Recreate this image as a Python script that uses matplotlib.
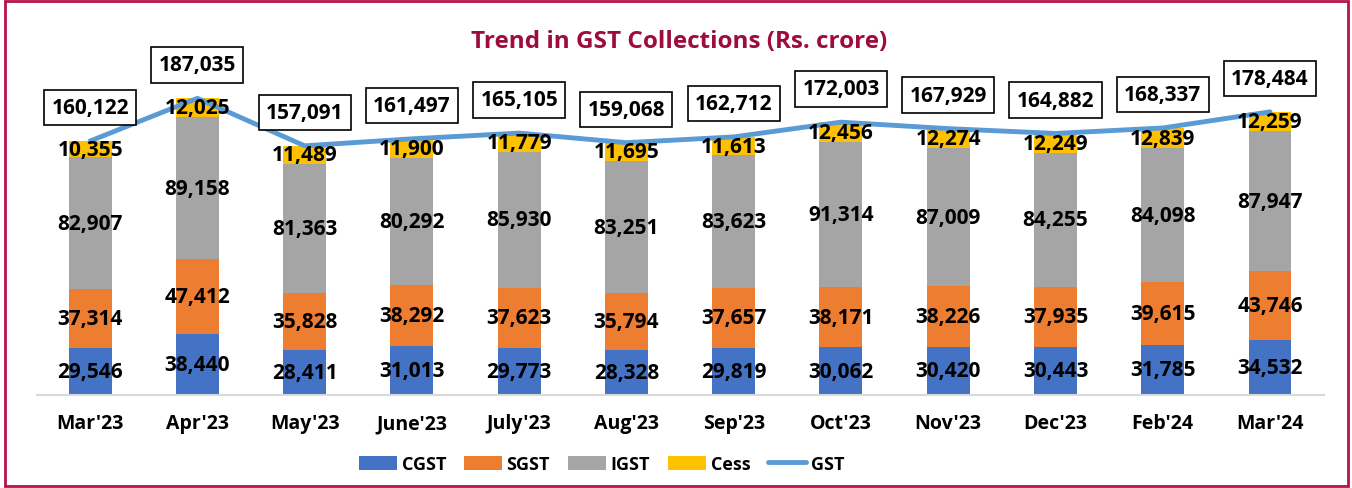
import matplotlib
matplotlib.use('Agg')
import matplotlib.pyplot as plt
from matplotlib.patches import Rectangle
import numpy as np

months = ["Mar'23", "Apr'23", "May'23", "June'23", "July'23", "Aug'23",
          "Sep'23", "Oct'23", "Nov'23", "Dec'23", "Feb'24", "Mar'24"]
cgst = [29546, 38440, 28411, 31013, 29773, 28328, 29819, 30062, 30420, 30443, 31785, 34532]
sgst = [37314, 47412, 35828, 38292, 37623, 35794, 37657, 38171, 38226, 37935, 39615, 43746]
igst = [82907, 89158, 81363, 80292, 85930, 83251, 83623, 91314, 87009, 84255, 84098, 87947]
cess = [10355, 12025, 11489, 11900, 11779, 11695, 11613, 12456, 12274, 12249, 12839, 12259]
gst = [160122, 187035, 157091, 161497, 165105, 159068, 162712, 172003, 167929, 164882, 168337, 178484]

colors = {'CGST': '#4472C4', 'SGST': '#ED7D31', 'IGST': '#A5A5A5', 'Cess': '#FFC000'}
font = 'Open Sans'

fig = plt.figure(figsize=(13.52, 4.89), dpi=100)
ax = fig.add_axes([0.027, 0.19, 0.952, 0.649])

x = np.arange(len(months))
bottom = np.zeros(len(months))
for name, vals in [('CGST', cgst), ('SGST', sgst), ('IGST', igst), ('Cess', cess)]:
    vals = np.array(vals)
    ax.bar(x, vals, 0.4, bottom=bottom, color=colors[name], label=name, zorder=2)
    for xi, b, v in zip(x, bottom, vals):
        ax.text(xi, b + v / 2, f'{v:,}', ha='center', va='center', fontsize=15,
                fontweight='bold', family=font, zorder=4)
    bottom = bottom + vals

ax.plot(x, gst, color='#5B9BD5', lw=3.5, label='GST', zorder=3, solid_capstyle='round')

for xi, v in zip(x, gst):
    ax.annotate(f'{v:,}', (xi, v), xytext=(0, 24), textcoords='offset points',
                ha='center', va='center', fontsize=15, fontweight='bold', family=font,
                bbox=dict(boxstyle='square,pad=0.35', fc='white', ec='black', lw=1.2),
                annotation_clip=False, zorder=5)

ax.set_xlim(-0.5, len(months) - 0.5)
ax.set_ylim(0, 200000)
ax.set_xticks(x)
ax.set_xticklabels(months, fontsize=14, fontweight='bold', family=font)
ax.tick_params(axis='x', length=0, pad=13)
ax.set_yticks([])
for s in ['top', 'right', 'left']:
    ax.spines[s].set_visible(False)
ax.spines['bottom'].set_color('#D9D9D9')
ax.spines['bottom'].set_linewidth(1.5)

fig.text(0.502, 0.914, 'Trend in GST Collections (Rs. crore)', ha='center', va='center',
         fontsize=17.5, fontweight='bold', color='#9E0B3F', family=font)

handles, labels = ax.get_legend_handles_labels()
order = [labels.index(n) for n in ['CGST', 'SGST', 'IGST', 'Cess', 'GST']]
fig.legend([handles[i] for i in order], [labels[i] for i in order],
           loc='center', bbox_to_anchor=(0.445, 0.049), ncol=5, frameon=False,
           prop={'family': font, 'weight': 'bold', 'size': 13},
           handlelength=2.1, handleheight=0.8, columnspacing=1.0, handletextpad=0.25)

fig.patches.append(Rectangle((0.004, 0.004), 0.993, 0.991, transform=fig.transFigure,
                             fill=False, ec='#B5134A', lw=2))

fig.savefig('out.png', dpi=100)
